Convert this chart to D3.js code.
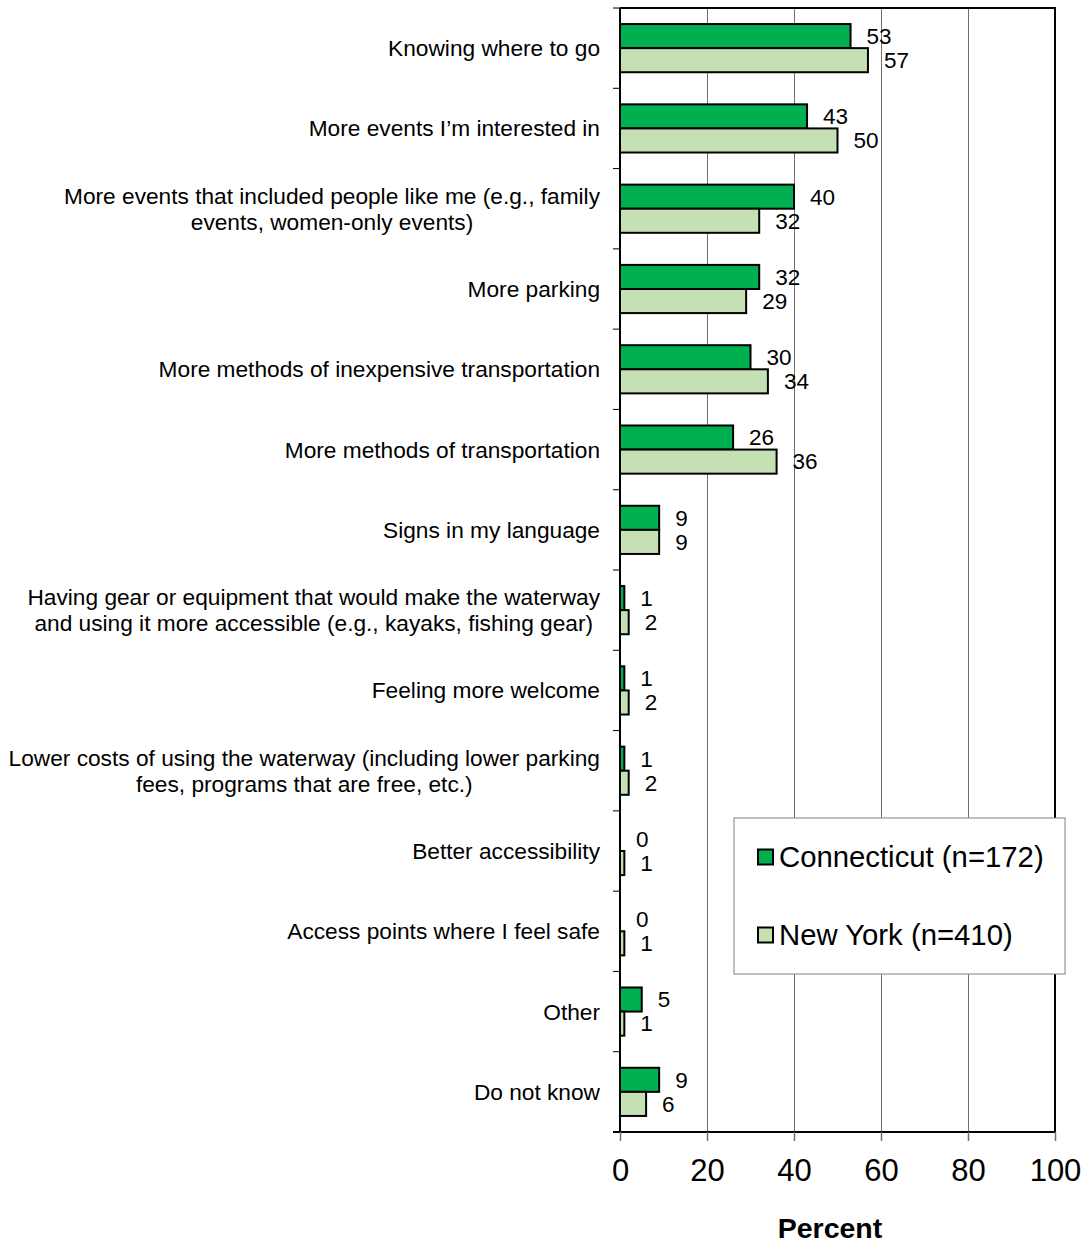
<!DOCTYPE html>
<html>
<head>
<meta charset="utf-8">
<script src="https://cdn.jsdelivr.net/npm/d3@7"></script>
<style>
  html, body { margin: 0; padding: 0; background: #fff; }
  svg text { font-family: "Liberation Sans", Arial, sans-serif; fill: #000; }
</style>
</head>
<body>
<svg id="chart" width="1087" height="1243"></svg>
<script>
// Reasons that would encourage more waterway use, by state (percent)
const categories = [
  "Knowing where to go",
  "More events I’m interested in",
  "More events that included people like me (e.g., family|events, women-only events)",
  "More parking",
  "More methods of inexpensive transportation",
  "More methods of transportation",
  "Signs in my language",
  "Having gear or equipment that would make the waterway|and using it more accessible (e.g., kayaks, fishing gear)",
  "Feeling more welcome",
  "Lower costs of using the waterway (including lower parking|fees, programs that are free, etc.)",
  "Better accessibility",
  "Access points where I feel safe",
  "Other",
  "Do not know"
];
const connecticut = [53, 43, 40, 32, 30, 26, 9, 1, 1, 1, 0, 0, 5, 9];
const newYork     = [57, 50, 32, 29, 34, 36, 9, 2, 2, 2, 1, 1, 1, 6];
const seriesNames = ["Connecticut (n=172)", "New York (n=410)"];
const xTicks = [0, 20, 40, 60, 80, 100];
const xTitle = "Percent";

const colors = ["#00b050", "#c5e0b3"];

const svg = d3.select("#chart");
const plot = { left: 620, right: 1055, top: 8, bottom: 1132 };

const x = d3.scaleLinear().domain([0, 100]).range([plot.left, plot.right]);
const y = d3.scaleBand().domain(d3.range(categories.length))
  .range([plot.top, plot.bottom]).paddingInner(0.4).paddingOuter(0.2);
const band = d3.scaleBand().domain(d3.range(categories.length))
  .range([plot.top, plot.bottom]);
const sub = d3.scaleBand().domain([0, 1]).range([0, y.bandwidth()]);

// vertical gridlines
svg.append("g").selectAll("line")
  .data(xTicks.filter(t => t > 0 && t < 100))
  .join("line")
  .attr("x1", d => Math.round(x(d)) + 0.5).attr("x2", d => Math.round(x(d)) + 0.5)
  .attr("y1", plot.top).attr("y2", plot.bottom)
  .attr("stroke", "#707070").attr("stroke-width", 1);

// top and right frame
svg.append("path")
  .attr("d", `M${plot.left},${plot.top}H${plot.right}V${plot.bottom}`)
  .attr("fill", "none").attr("stroke", "#000").attr("stroke-width", 2);

// bars
const series = [connecticut, newYork];
series.forEach((vals, s) => {
  svg.append("g").selectAll("rect")
    .data(vals)
    .join("rect")
    .attr("x", x(0))
    .attr("y", (d, i) => y(i) + sub(s))
    .attr("width", d => x(d) - x(0))
    .attr("height", sub.bandwidth())
    .attr("fill", colors[s])
    .attr("stroke", "#000")
    .attr("stroke-width", d => d > 0 ? 2 : 0);

  svg.append("g").selectAll("text")
    .data(vals)
    .join("text")
    .attr("x", d => x(d) + 16)
    .attr("y", (d, i) => y(i) + sub(s) + sub.bandwidth() / 2)
    .attr("dy", "0.35em")
    .attr("font-size", 22.5)
    .text(d => d);
});

// y axis with ticks at category boundaries
const yAxis = svg.append("g");
yAxis.selectAll("line")
  .data(d3.range(categories.length + 1))
  .join("line")
  .attr("x1", plot.left - 7).attr("x2", plot.left)
  .attr("y1", d => d < categories.length ? band(d) : plot.bottom)
  .attr("y2", d => d < categories.length ? band(d) : plot.bottom)
  .attr("stroke", "#000").attr("stroke-width", 1);
yAxis.append("line")
  .attr("x1", plot.left).attr("x2", plot.left)
  .attr("y1", plot.top).attr("y2", plot.bottom)
  .attr("stroke", "#000").attr("stroke-width", 2);

// category labels: block right-aligned, lines centred within block
categories.forEach((c, i) => {
  const lines = c.split("|");
  const g = svg.append("g");
  const cy = band(i) + band.bandwidth() / 2;
  const lh = 26;
  const texts = lines.map((ln, k) => g.append("text")
    .attr("font-size", 22.7)
    .attr("y", cy + (k - (lines.length - 1) / 2) * lh)
    .attr("dy", "0.35em")
    .attr("text-anchor", "middle")
    .text(ln));
  const w = d3.max(texts, t => t.node().getComputedTextLength());
  texts.forEach(t => t.attr("x", 600 - w / 2));
});

// x axis
const xAxis = d3.axisBottom(x).tickValues(xTicks).tickSize(9).tickPadding(18);
const gx = svg.append("g").attr("transform", `translate(0,${plot.bottom})`).call(xAxis);
gx.select(".domain").attr("stroke", "#000").attr("stroke-width", 2)
  .attr("d", `M${plot.left - 7},0H${plot.right}`);
gx.selectAll(".tick line").attr("stroke", "#707070").attr("stroke-width", 1.5);
gx.selectAll(".tick text")
  .attr("font-family", "Liberation Sans, Arial, sans-serif")
  .attr("font-size", 31).attr("fill", "#000");

svg.append("text")
  .attr("x", 830).attr("y", 1228)
  .attr("dy", "0.35em")
  .attr("text-anchor", "middle")
  .attr("font-size", 28.5).attr("font-weight", "bold")
  .text(xTitle);

// legend
const lg = svg.append("g");
lg.append("rect")
  .attr("x", 734).attr("y", 818).attr("width", 331).attr("height", 156)
  .attr("fill", "#fff").attr("stroke", "#808080").attr("stroke-width", 1);
seriesNames.forEach((n, s) => {
  const cy = 857 + s * 78;
  lg.append("rect")
    .attr("x", 758).attr("y", cy - 7.5).attr("width", 15).attr("height", 15)
    .attr("fill", colors[s]).attr("stroke", "#000").attr("stroke-width", 2);
  lg.append("text")
    .attr("x", 779).attr("y", cy)
    .attr("dy", "0.35em")
    .attr("font-size", 29.3)
    .text(n);
});
</script>
</body>
</html>
